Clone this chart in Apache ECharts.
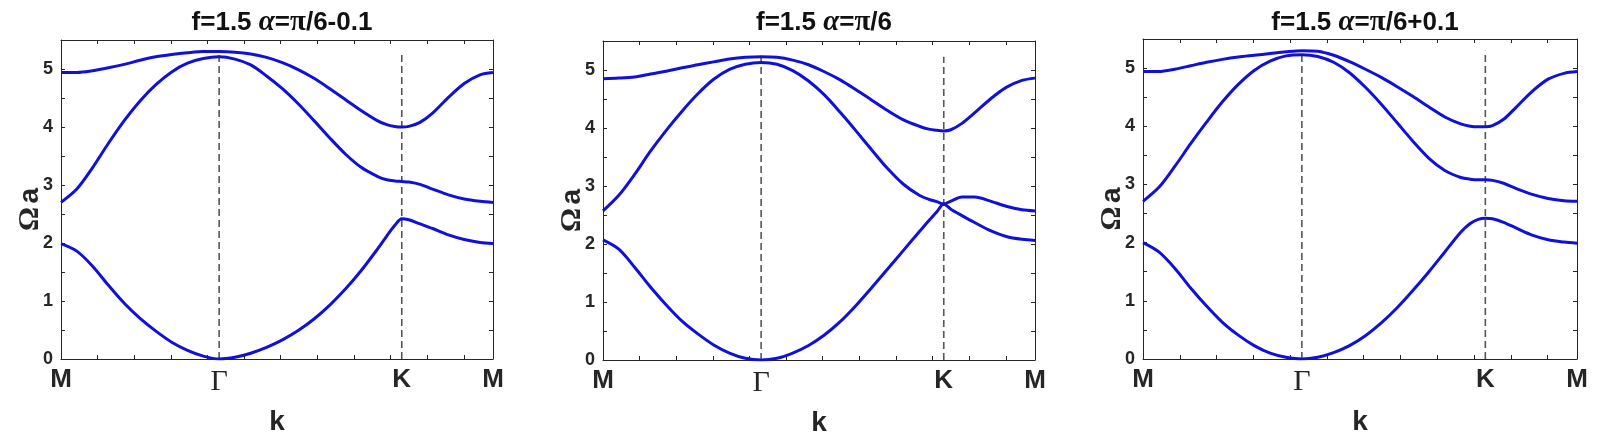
<!DOCTYPE html>
<html>
<head>
<meta charset="utf-8">
<script src="https://cdn.jsdelivr.net/npm/echarts@6/dist/echarts.min.js"></script>
<style>
  html, body { margin: 0; padding: 0; background: #fff; }
  #band-chart { width: 1597px; height: 438px; }
</style>
</head>
<body>
<div id="band-chart"></div>
<script>
// k path M -> Γ -> K -> M, length units where |MΓ| = 1
const kPath = [0, 0.1, 0.2, 0.3, 0.4, 0.5, 0.6, 0.7, 0.8, 0.9, 1.0, 1.1, 1.2, 1.3, 1.4, 1.5, 1.6, 1.7, 1.8, 1.9, 2.0, 2.06, 2.11, 2.155, 2.2, 2.27, 2.35, 2.45, 2.55, 2.65, 2.732]
const kLabels = ['M', 'Γ', 'K', 'M']
const kLabelPos = [0, 1, 2.155, 2.732]
const kMinorTickStep = 0.2316

const titles = ['π/6-0.1', 'π/6', 'π/6+0.1']

// panel 1: alpha = pi/6 - 0.1
const p1Band1 = [1.99, 1.86, 1.60, 1.27, 0.96, 0.70, 0.48, 0.29, 0.15, 0.05, 0.0, 0.03, 0.10, 0.20, 0.33, 0.49, 0.69, 0.93, 1.21, 1.53, 1.89, 2.12, 2.30, 2.42, 2.40, 2.33, 2.25, 2.14, 2.06, 2.01, 1.99]
const p1Band2 = [2.70, 2.93, 3.30, 3.72, 4.11, 4.45, 4.73, 4.95, 5.10, 5.18, 5.21, 5.17, 5.07, 4.88, 4.66, 4.40, 4.11, 3.81, 3.53, 3.30, 3.15, 3.09, 3.07, 3.06, 3.05, 3.01, 2.93, 2.83, 2.76, 2.72, 2.70]
const p1Band3 = [4.94, 4.94, 4.97, 5.02, 5.08, 5.15, 5.21, 5.25, 5.28, 5.30, 5.30, 5.29, 5.26, 5.20, 5.11, 4.99, 4.84, 4.66, 4.47, 4.28, 4.11, 4.04, 4.01, 4.00, 4.01, 4.08, 4.24, 4.51, 4.75, 4.90, 4.94]

// panel 2: alpha = pi/6
const p2Band1 = [2.07, 1.91, 1.60, 1.26, 0.95, 0.67, 0.45, 0.26, 0.12, 0.03, 0.0, 0.03, 0.12, 0.25, 0.43, 0.66, 0.94, 1.25, 1.57, 1.89, 2.21, 2.40, 2.55, 2.69, 2.60, 2.49, 2.37, 2.23, 2.13, 2.08, 2.06]
const p2Band2 = [2.57, 2.84, 3.20, 3.60, 3.96, 4.29, 4.59, 4.84, 5.01, 5.10, 5.13, 5.10, 4.99, 4.81, 4.57, 4.27, 3.95, 3.62, 3.30, 3.03, 2.84, 2.77, 2.73, 2.69, 2.74, 2.81, 2.81, 2.74, 2.65, 2.59, 2.57]
const p2Band3 = [4.85, 4.86, 4.88, 4.93, 4.98, 5.04, 5.09, 5.14, 5.19, 5.22, 5.23, 5.22, 5.17, 5.09, 4.97, 4.83, 4.66, 4.48, 4.30, 4.14, 4.03, 3.98, 3.96, 3.95, 3.97, 4.08, 4.26, 4.50, 4.70, 4.82, 4.86]

// panel 3: alpha = pi/6 + 0.1
const p3Band1 = [2.00, 1.84, 1.56, 1.22, 0.91, 0.63, 0.41, 0.23, 0.10, 0.03, 0.0, 0.03, 0.11, 0.23, 0.40, 0.62, 0.88, 1.18, 1.50, 1.84, 2.18, 2.33, 2.40, 2.42, 2.41, 2.35, 2.25, 2.13, 2.05, 2.01, 1.99]
const p3Band2 = [2.71, 2.95, 3.31, 3.70, 4.07, 4.42, 4.72, 4.96, 5.12, 5.21, 5.23, 5.20, 5.10, 4.92, 4.67, 4.38, 4.06, 3.74, 3.45, 3.24, 3.12, 3.09, 3.08, 3.08, 3.07, 3.02, 2.93, 2.83, 2.76, 2.72, 2.71]
const p3Band3 = [4.94, 4.94, 4.98, 5.04, 5.10, 5.15, 5.19, 5.22, 5.25, 5.28, 5.30, 5.29, 5.22, 5.11, 4.98, 4.84, 4.68, 4.51, 4.33, 4.16, 4.04, 4.00, 3.99, 3.99, 4.01, 4.12, 4.33, 4.60, 4.81, 4.91, 4.94]

const panels = [
  [p1Band1, p1Band2, p1Band3],
  [p2Band1, p2Band2, p2Band3],
  [p3Band1, p3Band2, p3Band3],
]

const grids = [
  { left: 61, top: 40, width: 432, height: 319, outerBoundsMode: 'none', containLabel: false },
  { left: 603, top: 41, width: 432, height: 319, outerBoundsMode: 'none', containLabel: false },
  { left: 1143, top: 39, width: 434, height: 320, outerBoundsMode: 'none', containLabel: false },
]

const sans = 'Liberation Sans, Arial, sans-serif'
const serif = 'Liberation Serif, Times New Roman, serif'
const axisColor = '#262626'
const bandColor = '#1010d8'

const minorTicks = []
for (let v = kMinorTickStep; v < kLabelPos[3]; v += kMinorTickStep) minorTicks.push(+v.toFixed(4))

const xAxes = []
const yAxes = []
const series = []
const titleList = []

grids.forEach((g, i) => {
  titleList.push({
    text: '{s|f=1.5 }{a|α}{s|=}{p|' + titles[i].slice(0, 1) + '}{s|' + titles[i].slice(1) + '}',
    left: g.left + g.width / 2,
    top: 3,
    textAlign: 'center',
    textStyle: {
      rich: {
        s: { fontFamily: sans, fontWeight: 'bold', fontSize: 26, color: '#111' },
        a: { fontFamily: serif, fontStyle: 'italic', fontSize: 29, color: '#111' },
        p: { fontFamily: serif, fontSize: 29, color: '#111' },
      },
    },
  })

  const common = {
    gridIndex: i,
    type: 'value',
    axisLine: { show: true, onZero: false, lineStyle: { color: axisColor, width: 1 } },
    splitLine: { show: false },
  }
  xAxes.push({
    ...common,
    position: 'bottom',
    min: 0,
    max: kLabelPos[3],
    name: 'k',
    nameLocation: 'middle',
    nameGap: 49,
    nameTextStyle: { fontFamily: sans, fontWeight: 'bold', fontSize: 28, color: axisColor },
    axisTick: { show: true, inside: true, length: 4, customValues: minorTicks, lineStyle: { color: axisColor } },
    axisLabel: {
      customValues: kLabelPos,
      margin: 8,
      showMinLabel: true,
      showMaxLabel: true,
      formatter: (v) => {
        const idx = kLabelPos.findIndex((p) => Math.abs(p - v) < 1e-6)
        const t = kLabels[idx] || ''
        return t === 'Γ' ? '{g|Γ}' : '{m|' + t + '}'
      },
      rich: {
        m: { fontFamily: sans, fontWeight: 'bold', fontSize: 26, color: axisColor },
        g: { fontFamily: serif, fontSize: 30, color: axisColor },
      },
    },
  })
  xAxes.push({
    ...common,
    position: 'top',
    min: 0,
    max: kLabelPos[3],
    axisTick: { show: true, inside: true, length: 4, customValues: minorTicks, lineStyle: { color: axisColor } },
    axisLabel: { show: false },
  })
  yAxes.push({
    ...common,
    position: 'left',
    min: 0,
    max: 5.5,
    interval: 0.5,
    name: '{o|Ω} {a|a}',
    nameLocation: 'middle',
    nameRotate: 90,
    nameGap: 16,
    nameMoveOverlap: false,
    nameTextStyle: {
      padding: [0, 20, 0, 0],
      rich: {
        o: { fontFamily: serif, fontWeight: 'bold', fontSize: 30, color: axisColor },
        a: { fontFamily: sans, fontWeight: 'bold', fontSize: 28, color: axisColor },
      },
    },
    axisTick: { show: true, inside: true, length: 4, lineStyle: { color: axisColor } },
    axisLabel: {
      margin: 8,
      fontFamily: sans,
      fontWeight: 'bold',
      fontSize: 18,
      color: axisColor,
      formatter: (v) => (Math.abs(v - Math.round(v)) < 1e-6 ? String(Math.round(v)) : ''),
    },
  })
  yAxes.push({
    ...common,
    position: 'right',
    min: 0,
    max: 5.5,
    interval: 0.5,
    axisTick: { show: true, inside: true, length: 4, lineStyle: { color: axisColor } },
    axisLabel: { show: false },
  })

  const bands = panels[i]
  const top = Math.max(...bands.map((b) => Math.max(...b)))
  // dashed guides at Γ and K
  ;[kLabelPos[1], kLabelPos[2]].forEach((x) => {
    series.push({
      type: 'line',
      xAxisIndex: i * 2,
      yAxisIndex: i * 2,
      data: [[x, 0], [x, top]],
      symbol: 'none',
      silent: true,
      z: 1,
      lineStyle: { color: '#555', width: 1.6, type: [7, 4] },
    })
  })
  bands.forEach((b) => {
    series.push({
      type: 'line',
      xAxisIndex: i * 2,
      yAxisIndex: i * 2,
      data: kPath.map((k, j) => [k, b[j]]),
      symbol: 'none',
      smooth: 0.3,
      z: 3,
      lineStyle: { color: bandColor, width: 3 },
    })
  })
})

const bandChart = echarts.init(document.getElementById('band-chart'))
bandChart.setOption({
  animation: false,
  backgroundColor: '#fff',
  title: titleList,
  grid: grids,
  xAxis: xAxes,
  yAxis: yAxes,
  series: series,
})
</script>
</body>
</html>
